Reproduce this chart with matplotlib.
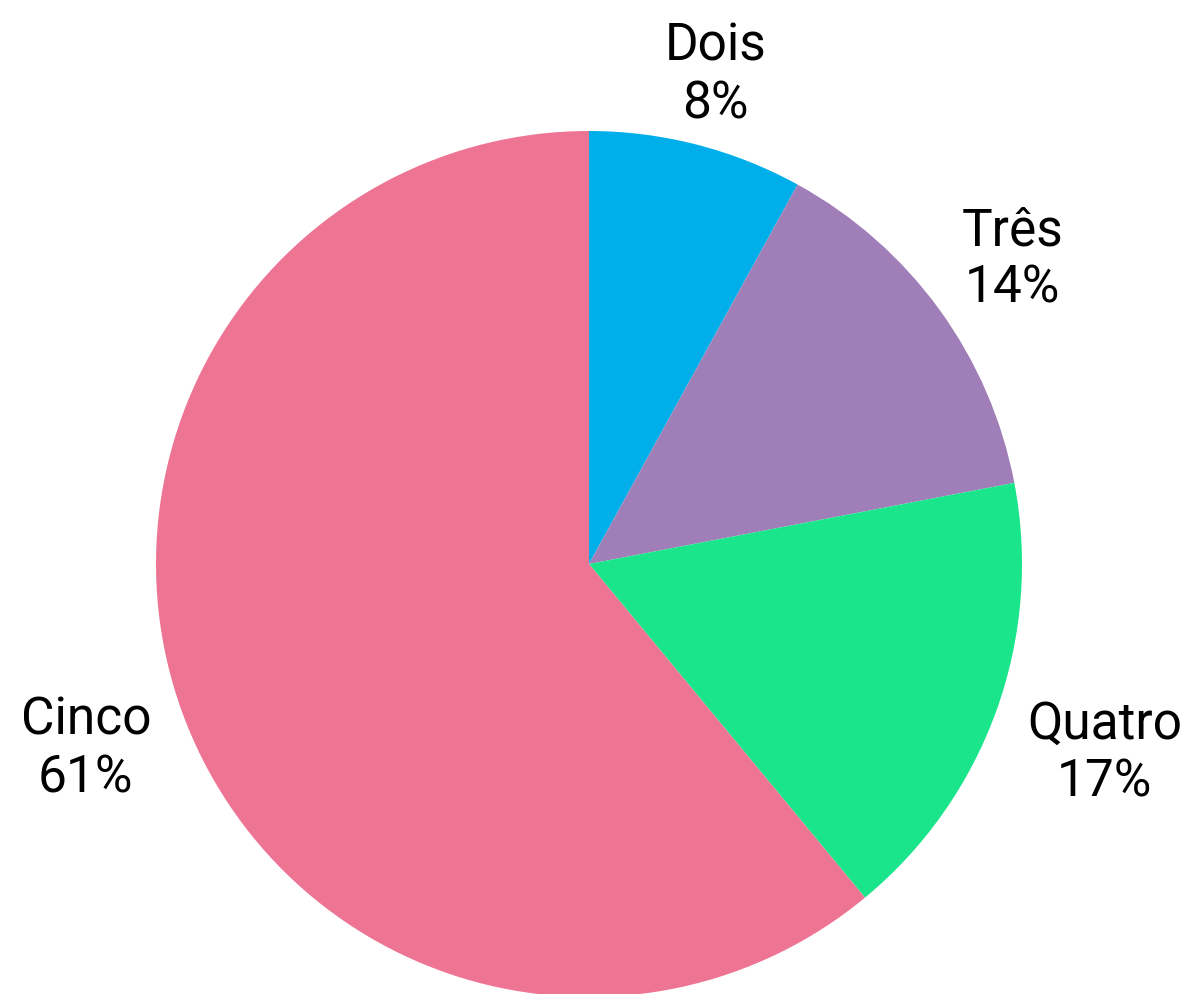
import numpy as np
import matplotlib.pyplot as plt

# data
labels = ["Dois", "Três", "Quatro", "Cinco"]
shares = [8, 14, 17, 61]
colors = ["#00AEEA", "#A07FB8", "#1BE58A", "#EE7493"]

W, H = 1187, 995
fig = plt.figure(figsize=(W / 100, H / 100), dpi=100)
ax = fig.add_axes([0, 0, 1, 1])

cx, cy, r = 589, H - 565, 433

wedges, _ = ax.pie(
    shares,
    colors=colors,
    startangle=90,
    counterclock=False,
    center=(cx, cy),
    radius=r,
    frame=True,
    wedgeprops=dict(linewidth=0),
)
ax.set_xlim(0, W)
ax.set_ylim(0, H)
ax.set_aspect("auto")
ax.axis("off")

total = sum(shares)
label_r = [1.175, 1.21, 1.265, 1.235]
for w, lab, val, lr in zip(wedges, labels, shares, label_r):
    mid = np.deg2rad((w.theta1 + w.theta2) / 2)
    x = cx + r * lr * np.cos(mid)
    y = cy + r * lr * np.sin(mid)
    ax.text(x, y - 3, f"{lab}\n{val / total * 100:.0f}%", ha="center", va="center",
            fontsize=37, family="Roboto", linespacing=1.2)

fig.savefig("out.png", dpi=100)
